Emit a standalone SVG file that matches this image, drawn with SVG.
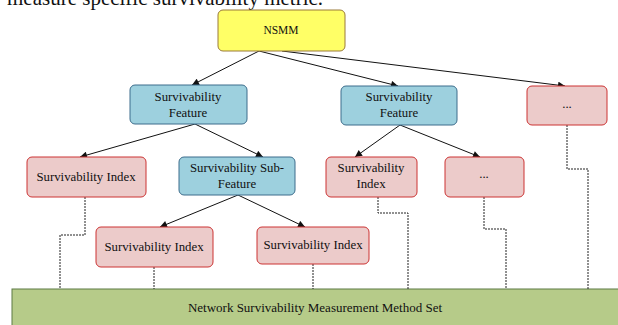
<svg xmlns="http://www.w3.org/2000/svg" width="618" height="325" viewBox="0 0 618 325">
<style>
text{font-family:"Liberation Serif","Times New Roman",serif;fill:#111;text-anchor:middle}
.lbl{font-size:12.8px}
.yel{fill:#ffff66;stroke:#9a7a3a;stroke-width:1}
.blu{fill:#9dd0de;stroke:#3d6d8c;stroke-width:1}
.pnk{fill:#eccbca;stroke:#cc3333;stroke-width:1}
.grn{fill:#b6cb89;stroke:#5d7a45;stroke-width:1}
.arr{fill:none;stroke:#111;stroke-width:1;marker-end:url(#ah)}
.dot{fill:none;stroke:#222;stroke-width:1;stroke-dasharray:2 1}
</style>
<defs>
<marker id="ah" viewBox="0 0 10 10" refX="10" refY="5" markerWidth="8" markerHeight="7" markerUnits="userSpaceOnUse" orient="auto">
<path d="M0,0 L10,5 L0,10 z" fill="#111"/>
</marker>
</defs>
<text x="7" y="5" style="font-size:21px;text-anchor:start">measure specific survivability metric.</text>
<g id="base">
<rect class="grn" x="12" y="289" width="620" height="40"/>
<text x="315" y="312" style="font-size:13px">Network Survivability Measurement Method Set</text>
</g>
<g id="connectors">
<path class="arr" d="M259,51 L192,85"/>
<path class="arr" d="M259,51 L398,86"/>
<path class="arr" d="M282,51 L565,86"/>
<path class="arr" d="M195,124 L80,157"/>
<path class="arr" d="M195,124 L263,157"/>
<path class="arr" d="M238,195 L160,227"/>
<path class="arr" d="M238,195 L305,227"/>
<path class="arr" d="M400,125 L355,157"/>
<path class="arr" d="M400,125 L480,157"/>
<path class="dot" d="M85,197 V235 H60 V289"/>
<path class="dot" d="M154,267 V289"/>
<path class="dot" d="M313,264 V289"/>
<path class="dot" d="M378,197 V213 H408 V289"/>
<path class="dot" d="M484,197 V229 H506 V289"/>
<path class="dot" d="M567,125 V169 H588 V289"/>
</g>
<g id="nsmm">
<rect class="yel" x="218" y="10" width="127" height="41" rx="5"/>
<text x="281" y="34" style="font-size:11.5px">NSMM</text>
</g>
<g id="feature1">
<rect class="blu" x="130" y="85" width="117" height="39" rx="5"/>
<text class="lbl" x="188" y="101">Survivability</text>
<text class="lbl" x="188" y="117">Feature</text>
</g>
<g id="feature2">
<rect class="blu" x="341" y="86" width="116" height="39" rx="5"/>
<text class="lbl" x="399" y="101">Survivability</text>
<text class="lbl" x="399" y="117">Feature</text>
</g>
<g id="etc1">
<rect class="pnk" x="527" y="86" width="80" height="39" rx="5"/>
<text class="lbl" x="567" y="108">...</text>
</g>
<g id="index1">
<rect class="pnk" x="27" y="157" width="119" height="40" rx="5"/>
<text class="lbl" x="86" y="181">Survivability Index</text>
</g>
<g id="subfeature">
<rect class="blu" x="179" y="157" width="116" height="38" rx="5"/>
<text class="lbl" x="237" y="172">Survivability Sub-</text>
<text class="lbl" x="237" y="188">Feature</text>
</g>
<g id="index2">
<rect class="pnk" x="326" y="157" width="91" height="40" rx="5"/>
<text class="lbl" x="371" y="172">Survivability</text>
<text class="lbl" x="371" y="188">Index</text>
</g>
<g id="etc2">
<rect class="pnk" x="445" y="157" width="79" height="40" rx="5"/>
<text class="lbl" x="484" y="178">...</text>
</g>
<g id="index3">
<rect class="pnk" x="96" y="227" width="117" height="40" rx="5"/>
<text class="lbl" x="154" y="251">Survivability Index</text>
</g>
<g id="index4">
<rect class="pnk" x="257" y="227" width="112" height="37" rx="5"/>
<text class="lbl" x="313" y="249">Survivability Index</text>
</g>
</svg>
